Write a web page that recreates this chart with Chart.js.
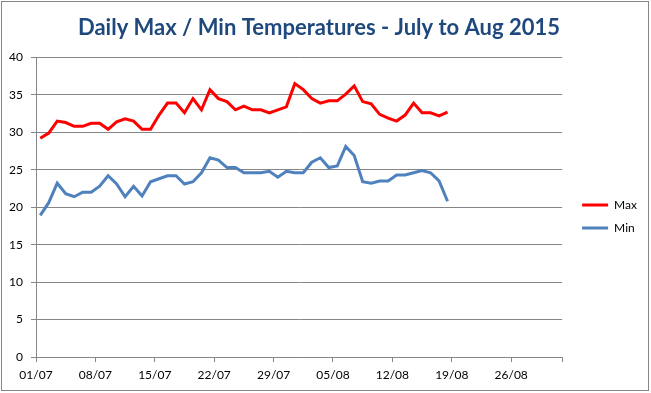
<!DOCTYPE html>
<html><head><meta charset="utf-8">
<script src="https://cdn.jsdelivr.net/npm/chart.js@4.4.1/dist/chart.umd.min.js"></script>
<style>
html,body{margin:0;padding:0;background:#fff;}
#wrap{position:relative;width:651px;height:393px;}
#frame{position:absolute;left:1px;top:1px;width:646px;height:388px;border:1px solid #868686;pointer-events:none;}
canvas{position:absolute;left:0;top:0;}
</style></head><body>
<div id="wrap"><canvas id="c" width="651" height="393"></canvas><div id="frame"></div></div>
<script>
const dates = ['01/07','02/07','03/07','04/07','05/07','06/07','07/07','08/07','09/07','10/07',
  '11/07','12/07','13/07','14/07','15/07','16/07','17/07','18/07','19/07','20/07',
  '21/07','22/07','23/07','24/07','25/07','26/07','27/07','28/07','29/07','30/07',
  '31/07','01/08','02/08','03/08','04/08','05/08','06/08','07/08','08/08','09/08',
  '10/08','11/08','12/08','13/08','14/08','15/08','16/08','17/08','18/08'];
const maxTemps = [29.2,29.9,31.5,31.3,30.8,30.8,31.2,31.2,30.4,31.4,
  31.8,31.5,30.4,30.4,32.3,33.9,33.9,32.6,34.5,33.0,
  35.7,34.5,34.1,33.0,33.5,33.0,33.0,32.6,33.0,33.4,
  36.5,35.7,34.5,33.9,34.2,34.2,35.1,36.2,34.1,33.8,
  32.4,31.9,31.5,32.3,33.9,32.6,32.6,32.2,32.7];
const minTemps = [18.9,20.6,23.2,21.8,21.4,22.0,22.0,22.8,24.2,23.1,
  21.4,22.8,21.5,23.4,23.8,24.2,24.2,23.1,23.4,24.6,
  26.6,26.3,25.3,25.3,24.6,24.6,24.6,24.8,24.0,24.8,
  24.6,24.6,26.0,26.6,25.3,25.5,28.1,26.9,23.4,23.2,
  23.5,23.5,24.3,24.3,24.6,24.9,24.6,23.5,20.8];
const tickLabels = ['01/07','08/07','15/07','22/07','29/07','05/08','12/08','19/08','26/08'];
const seriesNames = ['Max','Min'];
const titleText = 'Daily Max / Min Temperatures - July to Aug 2015';
const year = 2015;
const axisStartLabel = '01/07';
const axisEndLabel = '01/09';
const tickStepDays = 7;

function dayOffset(s){
  const [d,m] = s.split('/').map(Number);
  const [d0,m0] = axisStartLabel.split('/').map(Number);
  return Math.round((Date.UTC(year,m-1,d) - Date.UTC(year,m0-1,d0)) / 86400000);
}
// Excel date axis places each day in the middle of its one-day slot
const xs = dates.map(d => dayOffset(d) + 0.5);
const toPoints = vals => vals.map((v,i) => ({x: xs[i], y: v}));

const legendShift = {
  id: 'legendShift',
  afterLayout(chart){
    const lg = chart.legend;
    if (!lg) return;
    lg.left += 9; lg.right += 9;
    lg.top += 20; lg.bottom += 20;
  }
};

new Chart(document.getElementById('c'), {
  type: 'line',
  data: {
    datasets: [
      {label: seriesNames[0], data: toPoints(maxTemps), borderColor: '#FF0000', backgroundColor: '#FF0000',
       borderWidth: 3, pointRadius: 0, tension: 0, fill: false},
      {label: seriesNames[1], data: toPoints(minTemps), borderColor: '#4F81BD', backgroundColor: '#4F81BD',
       borderWidth: 3, pointRadius: 0, tension: 0, fill: false}
    ]
  },
  options: {
    responsive: false,
    animation: false,
    layout: {padding: {left: 0, right: 13, top: 0, bottom: 0}},
    plugins: {
      title: {display: true, text: titleText, color: '#1F497D',
        font: {family: 'Lato', size: 22, weight: 'bold'}, padding: {top: 15, bottom: 16}},
      legend: {position: 'right',
        labels: {usePointStyle: true, pointStyle: 'line', pointStyleWidth: 26, padding: 11,
          color: '#000', font: {family: 'Lato', size: 12}}},
      tooltip: {enabled: false}
    },
    scales: {
      x: {type: 'linear', min: 0, max: dayOffset(axisEndLabel),
        afterFit(s){ s.height = 36; },
        border: {display: true, color: '#868686', width: 1},
        grid: {drawOnChartArea: false, drawTicks: true, tickLength: 5, color: '#868686'},
        ticks: {stepSize: tickStepDays, autoSkip: false, maxRotation: 0, padding: 6, color: '#000',
          font: {family: 'Lato', size: 12},
          callback: v => tickLabels[Math.round(v / tickStepDays)] ?? ''}
      },
      y: {min: 0, max: 40,
        afterFit(s){ s.width = 36; },
        border: {display: true, color: '#868686', width: 1},
        grid: {color: '#868686', tickLength: 5},
        ticks: {stepSize: 5, padding: 8, color: '#000', font: {family: 'Lato', size: 12}}
      }
    }
  },
  plugins: [legendShift]
});
</script>
</body></html>
